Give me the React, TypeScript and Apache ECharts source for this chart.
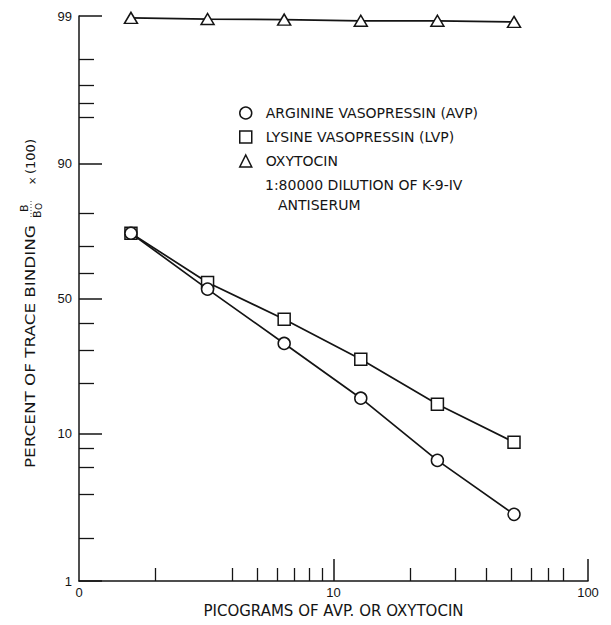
import React, { useEffect, useRef } from 'react';
import * as echarts from 'echarts';

// Data (picograms vs. percent of trace binding)
const doses = [1.6, 3.2, 6.4, 12.8, 25.6, 51.2];
const avpPercent = [74.3, 53.8, 32.5, 16.5, 6.7, 2.9];
const lvpPercent = [74.3, 56.5, 41.6, 27.1, 15.2, 8.8];
const oxytocinPercent = [98.97, 98.95, 98.94, 98.92, 98.92, 98.9];

const seriesNames = ['ARGININE VASOPRESSIN (AVP)', 'LYSINE VASOPRESSIN (LVP)', 'OXYTOCIN'];
const seriesSymbols = ['circle', 'rect', 'triangle'];
const noteLines = ['1:80000 DILUTION OF K-9-IV', 'ANTISERUM'];

const yLabelTicks = [1, 10, 50, 90, 99];
const yMinorTicks = [2, 4, 6, 8, 20, 30, 40, 60, 70, 80, 95, 96, 97, 98];
const xLabelTicks = [1, 10, 100];
const xMajorTicks = [10, 100];
const xMinorTicks = [2, 4, 5, 6, 7, 8, 9, 20, 30, 40, 50, 60, 70, 80];

const logit = (p: number) => Math.log(p / (100 - p));
const invLogit = (v: number) => 100 / (1 + Math.exp(-v));
const lg = (v: number) => Math.log10(v);

const INK = '#141414';
const SANS = '"DejaVu Sans", sans-serif';
const LAB = '"Liberation Sans", Arial, sans-serif';

export default function App() {
  const ref = useRef<HTMLDivElement>(null);
  useEffect(() => {
    if (!ref.current) return;
    const chart = echarts.init(ref.current, null, { renderer: 'svg' });
    const yMin = logit(1);
    const yMax = logit(99);
    const values = [avpPercent, lvpPercent, oxytocinPercent];
    const option: any = {
      animation: false,
      backgroundColor: '#ffffff',
      textStyle: { fontFamily: LAB, color: INK },
      grid: { left: 79, right: 23, top: 16, bottom: 44, containLabel: false },
      legend: {
        orient: 'vertical',
        left: 234,
        top: 101,
        itemWidth: 12,
        itemHeight: 12,
        itemGap: 10,
        selectedMode: false,
        textStyle: { fontFamily: SANS, fontSize: 14, color: INK, padding: [0, 0, 0, 9] },
        data: seriesNames.map((n, i) => ({
          name: n,
          icon: seriesSymbols[i],
          itemStyle: { color: '#fff', borderColor: INK, borderWidth: 1.5 },
        })),
      },
      xAxis: [
        {
          type: 'value',
          min: 0,
          max: 2,
          position: 'bottom',
          axisLine: { onZero: false, lineStyle: { color: INK, width: 1.5 } },
          axisTick: {
            customValues: xMajorTicks.map(lg),
            inside: true,
            length: 22,
            lineStyle: { color: INK, width: 1.5 },
          },
          axisLabel: {
            customValues: xLabelTicks.map(lg),
            formatter: (v: number) => (v === 0 ? '0' : String(Math.round(Math.pow(10, v)))),
            margin: 5,
            fontSize: 13,
            fontFamily: LAB,
            color: INK,
          },
          splitLine: { show: false },
          name: 'PICOGRAMS OF AVP. OR OXYTOCIN',
          nameLocation: 'middle',
          nameGap: 21,
          nameTextStyle: { fontFamily: SANS, fontSize: 15, color: INK },
        },
        {
          type: 'value',
          min: 0,
          max: 2,
          position: 'bottom',
          axisLine: { show: false, onZero: false },
          axisTick: {
            customValues: xMinorTicks.map(lg),
            inside: true,
            length: 13,
            lineStyle: { color: INK, width: 1.3 },
          },
          axisLabel: { show: false },
          splitLine: { show: false },
        },
      ],
      yAxis: [
        {
          type: 'value',
          min: yMin,
          max: yMax,
          position: 'left',
          axisLine: { show: true, onZero: false, lineStyle: { color: INK, width: 1.5 } },
          axisTick: {
            customValues: yLabelTicks.map(logit),
            inside: true,
            length: 23,
            lineStyle: { color: INK, width: 1.5 },
          },
          axisLabel: {
            customValues: yLabelTicks.map(logit),
            formatter: (v: number) => String(Math.round(invLogit(v))),
            margin: 7,
            fontSize: 13,
            fontFamily: LAB,
            color: INK,
          },
          splitLine: { show: false },
        },
        {
          type: 'value',
          min: yMin,
          max: yMax,
          position: 'left',
          axisLine: { show: false, onZero: false },
          axisTick: {
            customValues: yMinorTicks.map(logit),
            inside: true,
            length: 15,
            lineStyle: { color: INK, width: 1.3 },
          },
          axisLabel: { show: false },
          splitLine: { show: false },
        },
      ],
      series: seriesNames.map((n, i) => ({
        name: n,
        type: 'line',
        xAxisIndex: 0,
        yAxisIndex: 0,
        data: doses.map((d, k) => [lg(d), logit(values[i][k])]),
        symbol: seriesSymbols[i],
        symbolSize: i === 2 ? [13, 11] : 12,
        showAllSymbol: true,
        lineStyle: { color: INK, width: 1.7 },
        itemStyle: { color: '#fff', borderColor: INK, borderWidth: 1.5 },
        z: 3 - i,
      })),
      graphic: [
        {
          type: 'text',
          left: 265,
          top: 178,
          style: { text: noteLines[0], font: `14px ${SANS}`, fill: INK },
        },
        {
          type: 'text',
          left: 278,
          top: 198,
          style: { text: noteLines[1], font: `14px ${SANS}`, fill: INK },
        },
        {
          type: 'group',
          x: 30,
          y: 468,
          rotation: Math.PI / 2,
          children: [
            {
              type: 'text',
              x: 0,
              y: 0,
              scaleX: 1.2,
              style: {
                text: 'PERCENT OF TRACE BINDING',
                font: `14px ${SANS}`,
                fill: INK,
                align: 'left',
                verticalAlign: 'middle',
              },
            },
            {
              type: 'text',
              x: 256,
              y: -6,
              style: { text: 'B', font: `11px ${SANS}`, fill: INK, align: 'left', verticalAlign: 'middle' },
            },
            {
              type: 'line',
              shape: { x1: 251, y1: 1, x2: 268, y2: 1 },
              style: { stroke: INK, lineWidth: 0.8, lineDash: [1, 2] },
            },
            {
              type: 'text',
              x: 250,
              y: 7,
              style: { text: 'B', font: `11px ${SANS}`, fill: INK, align: 'left', verticalAlign: 'middle' },
            },
            {
              type: 'text',
              x: 258,
              y: 9,
              style: { text: 'O', font: `9px ${SANS}`, fill: INK, align: 'left', verticalAlign: 'middle' },
            },
            {
              type: 'text',
              x: 283,
              y: 2,
              style: { text: '×', font: `10px ${SANS}`, fill: INK, align: 'left', verticalAlign: 'middle' },
            },
            {
              type: 'text',
              x: 294,
              y: 0,
              style: { text: '(100)', font: `13px ${SANS}`, fill: INK, align: 'left', verticalAlign: 'middle' },
            },
          ],
        },
      ],
    };
    chart.setOption(option);
    return () => chart.dispose();
  }, []);
  return (
    <div
      ref={ref}
      style={{ position: 'absolute', left: 0, top: 0, width: 611, height: 625, background: '#fff' }}
    />
  );
}
